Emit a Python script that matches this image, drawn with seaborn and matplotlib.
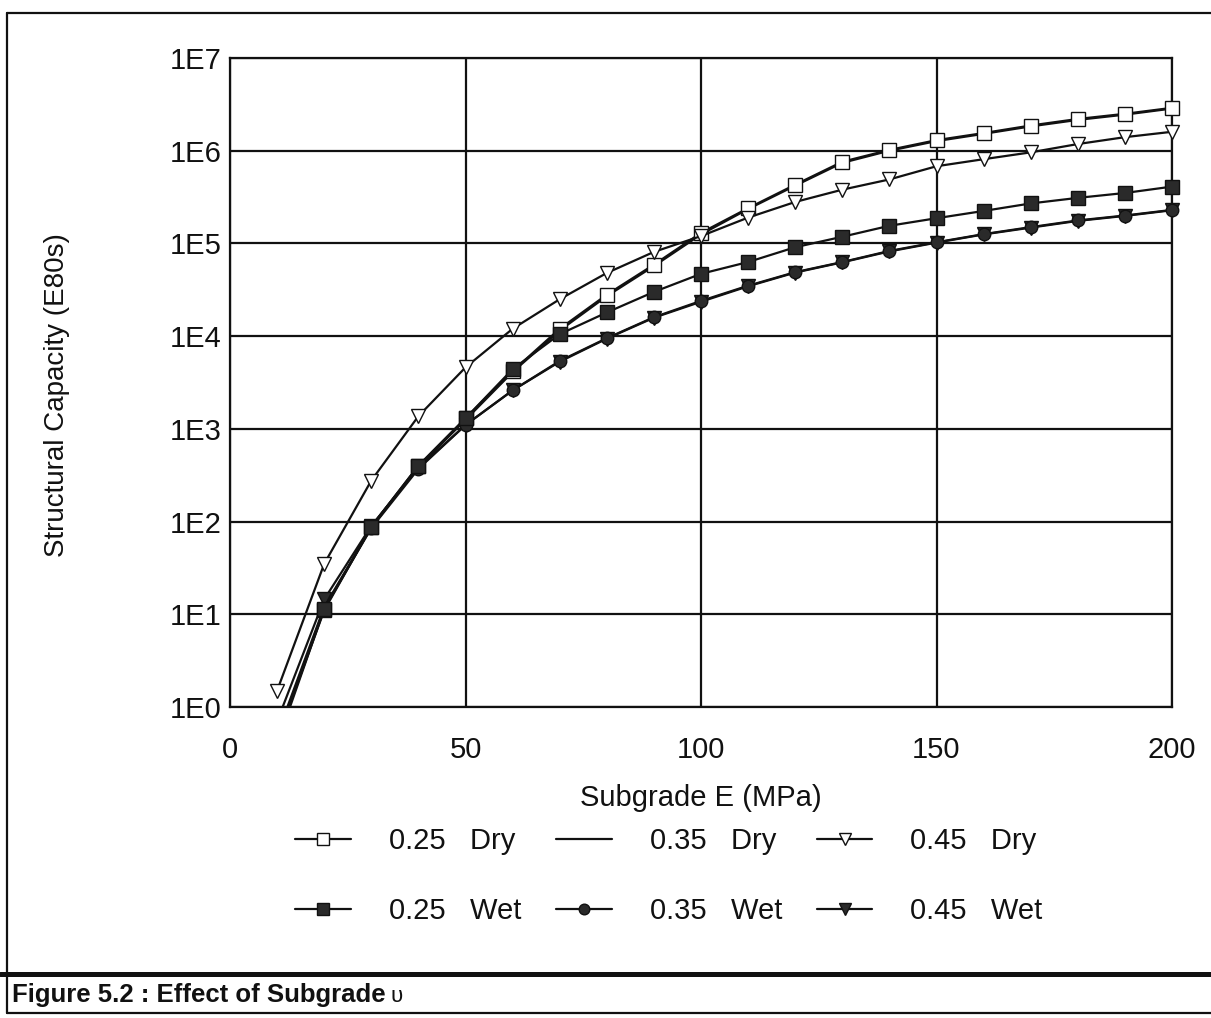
import numpy as np
import pandas as pd
import matplotlib
matplotlib.use("Agg")
import matplotlib.pyplot as plt
from matplotlib.lines import Line2D
from matplotlib.transforms import Bbox, TransformedBbox
from matplotlib.ticker import FixedLocator, FuncFormatter, LogLocator, NullFormatter
import seaborn as sns

# Subgrade stiffness (MPa)
subgrade_e = [10, 20, 30, 40, 50, 60, 70, 80, 90, 100,
              110, 120, 130, 140, 150, 160, 170, 180, 190, 200]

# Structural capacity (E80s) for each Poisson ratio / moisture condition
dry_025 = [0.45, 11, 88, 400, 1300, 4200, 12000, 28000, 59000, 130000,
           240000, 430000, 760000, 1020000, 1300000, 1550000, 1870000, 2200000, 2500000, 2900000]
dry_035 = [0.5, 12, 86, 390, 1250, 4100, 11500, 27000, 57000, 125000,
           235000, 420000, 740000, 1000000, 1270000, 1520000, 1830000, 2150000, 2450000, 2850000]
dry_045 = [1.5, 35, 277, 1370, 4600, 12000, 25000, 48000, 81000, 120000,
           190000, 280000, 380000, 490000, 680000, 810000, 960000, 1180000, 1400000, 1600000]
wet_025 = [0.4, 11.4, 88, 400, 1300, 4400, 10500, 18000, 30000, 47000,
           63000, 91000, 118000, 155000, 187000, 224000, 270000, 310000, 350000, 410000]
wet_035 = [0.45, 11.5, 85, 370, 1100, 2600, 5400, 9500, 16000, 24000,
           35000, 49000, 63000, 83000, 103000, 126000, 150000, 177000, 200000, 230000]
wet_045 = [0.7, 14.5, 90, 380, 1100, 2600, 5300, 9400, 15800, 23500,
           34500, 48500, 62500, 82000, 102000, 125000, 148000, 175000, 198000, 228000]

series_labels = ["0.25   Dry", "0.35   Dry", "0.45   Dry",
                 "0.25   Wet", "0.35   Wet", "0.45   Wet"]

sns.set_style("white")
plt.rcParams["font.family"] = ["Liberation Sans", "DejaVu Sans"]

INK = "#111111"
FILL = "#2a2a2a"

fig = plt.figure(figsize=(12.11, 10.18), dpi=100)
ax = fig.add_axes([230 / 1211, 1 - 707 / 1018, 942 / 1211, 649 / 1018])

styles = {
    "0.25   Dry": dict(marker="s", mfc="white", mec=INK, ms=10),
    "0.35   Dry": dict(marker=None),
    "0.45   Dry": dict(marker="v", mfc="white", mec=INK, ms=10),
    "0.45   Wet": dict(marker="v", mfc=FILL, mec=INK, ms=10),
    "0.35   Wet": dict(marker="o", mfc=FILL, mec=INK, ms=9),
    "0.25   Wet": dict(marker="s", mfc=FILL, mec=INK, ms=10),
}
values = {
    "0.25   Dry": dry_025, "0.35   Dry": dry_035, "0.45   Dry": dry_045,
    "0.25   Wet": wet_025, "0.35   Wet": wet_035, "0.45   Wet": wet_045,
}

# clip region: the plot box, widened a little left/right so end markers stay whole
clip = TransformedBbox(Bbox([[-0.02, 0.0], [1.02, 1.02]]), ax.transAxes)

handles = {}
draw_order = ["0.35   Dry", "0.25   Dry", "0.45   Dry", "0.45   Wet", "0.35   Wet", "0.25   Wet"]
for i, name in enumerate(draw_order):
    df = pd.DataFrame({"E": subgrade_e, "N": values[name]})
    st = styles[name]
    kw = dict(color=INK, linewidth=1.6, zorder=3 + i)
    if st["marker"] is not None:
        kw.update(marker=st["marker"], markerfacecolor=st["mfc"],
                  markeredgecolor=st["mec"], markersize=st["ms"], markeredgewidth=1.0)
    sns.lineplot(data=df, x="E", y="N", ax=ax, estimator=None, sort=False, **kw)
    line = ax.lines[-1]
    line.set_clip_box(clip)
    handles[name] = line

ax.set_yscale("log")
ax.set_xlim(0, 200)
ax.set_ylim(1, 1e7)

ax.xaxis.set_major_locator(FixedLocator([0, 50, 100, 150, 200]))
ax.yaxis.set_major_locator(FixedLocator([10.0 ** k for k in range(8)]))
ax.yaxis.set_major_formatter(FuncFormatter(lambda v, p: f"1E{int(round(np.log10(v)))}"))
ax.yaxis.set_minor_locator(LogLocator(base=10, subs=np.arange(2, 10)))
ax.yaxis.set_minor_formatter(NullFormatter())

ax.grid(True, which="major", color=INK, linewidth=1.6)
ax.set_axisbelow(True)
for sp in ax.spines.values():
    sp.set_color(INK)
    sp.set_linewidth(1.6)

ax.tick_params(axis="x", which="major", length=0, pad=21, labelsize=21, colors=INK)
ax.tick_params(axis="y", which="major", direction="out", length=5, width=1.2,
               pad=1, labelsize=21, colors=INK)
ax.tick_params(axis="y", which="minor", direction="in", length=4, width=0.9, colors=INK)

ax.set_xlabel("Subgrade E (MPa)", fontsize=21, color=INK, labelpad=14)
ax.set_ylabel("Structural Capacity (E80s)", fontsize=20, color=INK)
ax.yaxis.label.set_verticalalignment("center")
ax.yaxis.set_label_coords((57 - 230) / 942, (707 - 395) / 649)

# legend: two rows (Dry / Wet), three columns (Poisson ratio)
leg_order = ["0.25   Dry", "0.25   Wet", "0.35   Dry", "0.35   Wet", "0.45   Dry", "0.45   Wet"]
leg = fig.legend([handles[n] for n in leg_order], leg_order,
                 loc="center", bbox_to_anchor=(669 / 1211, 1 - 876 / 1018),
                 bbox_transform=fig.transFigure, ncol=3, frameon=False,
                 fontsize=21, handlelength=1.9, handletextpad=1.3,
                 columnspacing=1.2, labelspacing=1.45, borderpad=0,
                 markerscale=0.85)
for t in leg.get_texts():
    t.set_color(INK)

# page frame and caption box
def hline(y0, y1, x0, x1, lw):
    fig.add_artist(Line2D([x0 / 1211, x1 / 1211], [1 - y0 / 1018, 1 - y1 / 1018],
                          color=INK, linewidth=lw, transform=fig.transFigure))

hline(13, 13, 7, 1211, 1.6)
hline(974, 974, 0, 1211, 3.6)
hline(1013, 1013, 7, 1211, 1.6)
fig.add_artist(Line2D([7 / 1211, 7 / 1211], [1 - 13 / 1018, 1 - 1013 / 1018],
                      color=INK, linewidth=1.6, transform=fig.transFigure))

fig.text(12 / 1211, 1 - 995 / 1018, "Figure 5.2 : Effect of Subgrade", fontsize=18.5,
         fontweight="bold", color=INK, ha="left", va="center")
fig.text(390 / 1211, 1 - 997 / 1018, "υ", fontsize=16, color=INK, ha="left", va="center")

fig.savefig("out.png", dpi=100, facecolor="white")
